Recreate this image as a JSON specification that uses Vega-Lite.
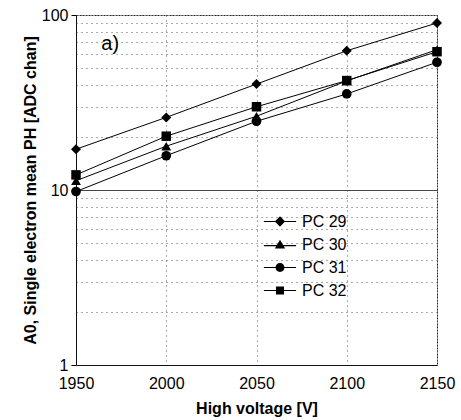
{
  "$schema": "https://vega.github.io/schema/vega-lite/v6.json",
  "width": 361,
  "height": 350,
  "autosize": {"type": "none"},
  "padding": {"left": 76, "top": 15, "right": 24, "bottom": 55},
  "background": "white",
  "config": {
    "font": "Liberation Sans",
    "view": {"stroke": "#222", "strokeDash": [2, 1], "strokeWidth": 1},
    "axis": {"domainColor": "#111", "labelColor": "#000", "titleColor": "#000", "labelFont": "Liberation Sans", "titleFont": "Liberation Sans"},
    "legend": {"labelFont": "Liberation Sans"}
  },
  "data": {
    "values": [
      {"series": "PC 29", "hv": 1950, "ph": 17.1},
      {"series": "PC 29", "hv": 2000, "ph": 26},
      {"series": "PC 29", "hv": 2050, "ph": 40.3},
      {"series": "PC 29", "hv": 2100, "ph": 62.5},
      {"series": "PC 29", "hv": 2150, "ph": 90},
      {"series": "PC 30", "hv": 1950, "ph": 11.3},
      {"series": "PC 30", "hv": 2000, "ph": 17.8},
      {"series": "PC 30", "hv": 2050, "ph": 26.4},
      {"series": "PC 30", "hv": 2100, "ph": 42},
      {"series": "PC 30", "hv": 2150, "ph": 63.4},
      {"series": "PC 31", "hv": 1950, "ph": 9.8},
      {"series": "PC 31", "hv": 2000, "ph": 15.7},
      {"series": "PC 31", "hv": 2050, "ph": 24.7},
      {"series": "PC 31", "hv": 2100, "ph": 35.4},
      {"series": "PC 31", "hv": 2150, "ph": 53.7},
      {"series": "PC 32", "hv": 1950, "ph": 12.2},
      {"series": "PC 32", "hv": 2000, "ph": 20.3},
      {"series": "PC 32", "hv": 2050, "ph": 29.9},
      {"series": "PC 32", "hv": 2100, "ph": 42.2},
      {"series": "PC 32", "hv": 2150, "ph": 61.7}
    ]
  },
  "encoding": {
    "x": {
      "field": "hv", "type": "quantitative",
      "scale": {"domain": [1950, 2150], "nice": false, "zero": false},
      "axis": {
        "title": "High voltage [V]", "titleFontSize": 16, "titleFontWeight": "bold", "titlePadding": 9,
        "values": [1950, 2000, 2050, 2100, 2150], "format": "d", "labelFontSize": 16, "labelPadding": 10,
        "labelFlush": false, "ticks": false, "domain": true,
        "grid": true, "gridColor": "#555", "gridDash": [1, 4], "gridWidth": 1
      }
    },
    "y": {
      "field": "ph", "type": "quantitative",
      "scale": {"type": "log", "domain": [1, 100], "nice": false},
      "axis": {
        "title": "A0, Single electron  mean PH [ADC chan]", "titleFontSize": 16, "titleFontWeight": "bold", "titlePadding": 3,
        "values": [1, 2, 3, 4, 5, 6, 7, 8, 9, 10, 20, 30, 40, 50, 60, 70, 80, 90, 100],
        "labelExpr": "datum.value == 1 || datum.value == 10 || datum.value == 100 ? datum.label : ''",
        "labelFontSize": 16, "labelPadding": 3,
        "tickColor": "#000",
        "tickSize": {"condition": {"test": "datum.value == 1 || datum.value == 10 || datum.value == 100", "value": 5}, "value": 0},
        "grid": true,
        "gridColor": {"condition": {"test": "datum.value == 10", "value": "#444"}, "value": "#555"},
        "gridDash": {"condition": {"test": "datum.value == 10", "value": []}, "value": [1, 4]},
        "gridWidth": 1
      }
    }
  },
  "layer": [
    {
      "mark": {"type": "line", "color": "#000", "strokeWidth": 1},
      "encoding": {"detail": {"field": "series"}}
    },
    {
      "mark": {"type": "point", "filled": true, "color": "#000", "opacity": 1},
      "encoding": {
        "shape": {
          "field": "series", "type": "nominal",
          "scale": {"domain": ["PC 29", "PC 30", "PC 31", "PC 32"], "range": ["diamond", "triangle-up", "circle", "square"]},
          "legend": null
        },
        "size": {
          "field": "series", "type": "nominal",
          "scale": {"domain": ["PC 29", "PC 30", "PC 31", "PC 32"], "range": [100, 90, 85, 80]},
          "legend": null
        }
      }
    },
    {
      "mark": {"type": "point", "filled": true, "color": "#000", "opacity": 0, "size": 80},
      "encoding": {
        "shape": {
          "field": "series", "type": "nominal",
          "scale": {"domain": ["PC 29", "PC 30", "PC 31", "PC 32"], "range": [
            "M-3.6,-0.12L-0.5,-0.12L-0.5,0.12L-3.6,0.12ZM0.5,-0.12L3.6,-0.12L3.6,0.12L0.5,0.12ZM0,-1.15L1.15,0L0,1.15L-1.15,0Z",
            "M-3.6,0.13L-0.5,0.13L-0.5,0.37L-3.6,0.37ZM0.5,0.13L3.6,0.13L3.6,0.37L0.5,0.37ZM0,-1.05L1.15,0.9L-1.15,0.9Z",
            "M-3.6,-0.12L-0.5,-0.12L-0.5,0.12L-3.6,0.12ZM0.5,-0.12L3.6,-0.12L3.6,0.12L0.5,0.12ZM-1,0A1,1,0,1,1,1,0A1,1,0,1,1,-1,0Z",
            "M-3.6,-0.12L-0.5,-0.12L-0.5,0.12L-3.6,0.12ZM0.5,-0.12L3.6,-0.12L3.6,0.12L0.5,0.12ZM-0.9,-0.9L0.9,-0.9L0.9,0.9L-0.9,0.9Z"
          ]},
          "legend": {
            "title": null, "orient": "none", "legendX": 196, "legendY": 198.5,
            "padding": 0, "labelFontSize": 16, "labelOffset": 14, "rowPadding": 7,
            "symbolSize": 80, "symbolOpacity": 1, "symbolFillColor": "#000", "symbolStrokeColor": "#000", "symbolStrokeWidth": 0
          }
        }
      }
    },
    {
      "transform": [{"filter": "datum.series == 'PC 29' && datum.hv == 1950"}],
      "mark": {"type": "text", "text": "a)", "fontSize": 20, "fontWeight": "normal", "font": "Liberation Sans", "align": "left", "baseline": "middle", "color": "#000"},
      "encoding": {
        "x": {"datum": 1964},
        "y": {"datum": 68}
      }
    }
  ],
  "resolve": {"scale": {"shape": "independent", "size": "independent"}, "legend": {"shape": "independent"}}
}
